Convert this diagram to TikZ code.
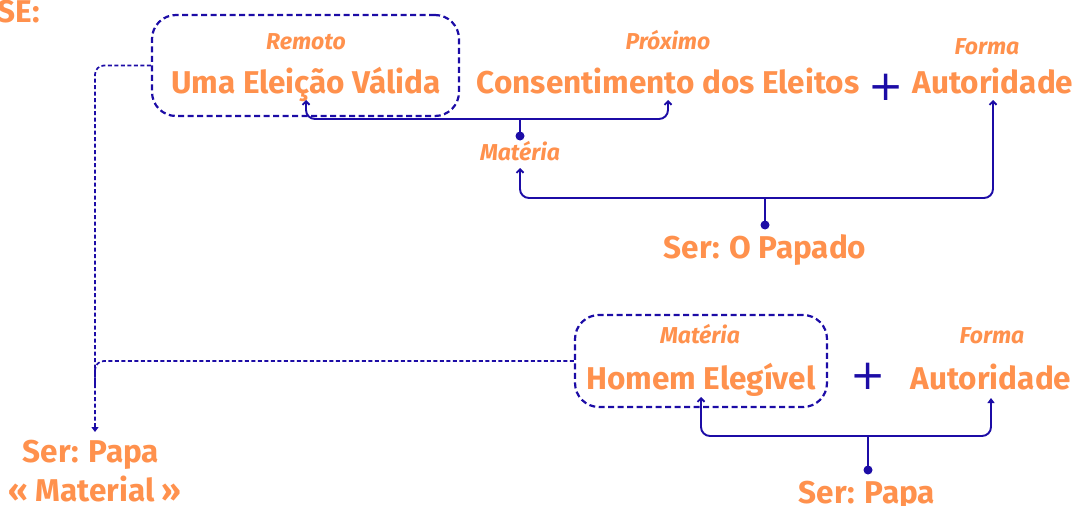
\documentclass[tikz,border=0pt]{standalone}
\usepackage{fontspec}
\setmainfont{Fira Sans}
\newfontfamily\plusfont{DejaVu Sans}
\usetikzlibrary{arrows.meta}
\definecolor{orangeA}{HTML}{FF914D}
\definecolor{blueA}{HTML}{1C0CA6}
\tikzset{
  big/.style={text=orangeA, font=\fontsize{31.5}{33}\selectfont\bfseries, inner sep=0pt, anchor=base},
  lab/.style={text=orangeA, font=\fontsize{23}{25}\selectfont\bfseries\itshape, inner sep=0pt, anchor=base},
  plussign/.style={text=blueA, font=\plusfont\fontsize{42}{42}\selectfont, inner sep=0pt, anchor=center},
  conn/.style={draw=blueA, line width=1.9pt, rounded corners=9pt},
  dconn/.style={draw=blueA, line width=1.7pt, dash pattern=on 4pt off 2.5pt, rounded corners=9pt},
  dbox/.style={draw=blueA, line width=2.2pt, dash pattern=on 6pt off 3.5pt, rounded corners=24pt, inner sep=0pt},
  dotc/.style={circle, fill=blueA, inner sep=0pt, minimum size=9pt},
  barb/.tip={Straight Barb[length=3.5pt,width=7pt]},
  tri/.tip={Triangle[length=5pt,width=7pt]},
}
\begin{document}
\begin{tikzpicture}[x=1pt,y=-1pt]
\useasboundingbox (0,0) rectangle (1077,506);

% top left fragment
\node[big, anchor=base east] (se) at (40,22) {SE:};

% top row
\node[dbox, minimum width=307pt, minimum height=101pt] (box1) at (305.5,65.5) {};
\node[lab] (remoto) at (306,49) {Remoto};
\node[big] (uma) at (306,93) {Uma Eleição Válida};
\node[lab] (proximo) at (668,49) {Próximo};
\node[big] (cons) at (668,93) {Consentimento dos Eleitos};
\node[plussign] (plus1) at (886,87) {+};
\node[lab] (forma1) at (987,54) {Forma};
\node[big] (aut1) at (993,93) {Autoridade};

\node[dotc] (d1) at (520,136) {};
\node[lab] (materia1) at (520,160) {Matéria};
\node[dotc] (d2) at (765,225) {};
\node[big] (papado) at (765,258) {Ser: O Papado};

% brace 1
\coordinate (h1) at (520,119);
\draw[conn,-barb] (d1.center) -- (520,128) .. controls (520,119) .. (508,119) -- (uma.base |- h1) -- ([yshift=-7pt]uma.base);
\draw[conn,-barb] (d1.center) -- (520,128) .. controls (520,119) .. (532,119) -- (cons.base |- h1) -- ([yshift=-7pt]cons.base);

% brace 2
\coordinate (h2) at (765,198);
\draw[conn,-barb] (d2.center) -- (765,207) .. controls (765,198) .. (753,198) -- (materia1.base |- h2) -- ([yshift=-8pt]materia1.base);
\draw[conn,-barb] (d2.center) -- (765,207) .. controls (765,198) .. (777,198) -- (aut1.base |- h2) -- ([yshift=-7pt]aut1.base);

% bottom row
\node[dbox, minimum width=252pt, minimum height=92pt] (box2) at (701,361) {};
\node[lab] (materia2) at (700,343) {Matéria};
\node[big] (homem) at (701,389) {Homem Elegível};
\node[plussign] (plus2) at (868,376) {+};
\node[lab] (forma2) at (992,343) {Forma};
\node[big] (aut2) at (991,389) {Autoridade};

\node[dotc] (d3) at (868,470) {};
\node[big] (papa) at (867,503) {Ser: Papa};

\coordinate (h3) at (868,436);
\draw[conn,-barb] (d3.center) -- (868,445) .. controls (868,436) .. (856,436) -- (homem.base |- h3) -- ([yshift=-8pt]homem.base);
\draw[conn,-tri] (d3.center) -- (868,445) .. controls (868,436) .. (880,436) -- (aut2.base |- h3) -- ([yshift=-9pt]aut2.base);

% left output
\node[big] (papaL) at (91,462) {Ser: Papa};
\node[big] (material) at (95,501) {« Material »};
\coordinate (endL) at (95,432);
\draw[dconn,-tri] (box1.west) -- (95,65.5) -- (endL);
\draw[dconn] (box2.west) -- (95,361) -- (95,385);
\end{tikzpicture}
\end{document}
